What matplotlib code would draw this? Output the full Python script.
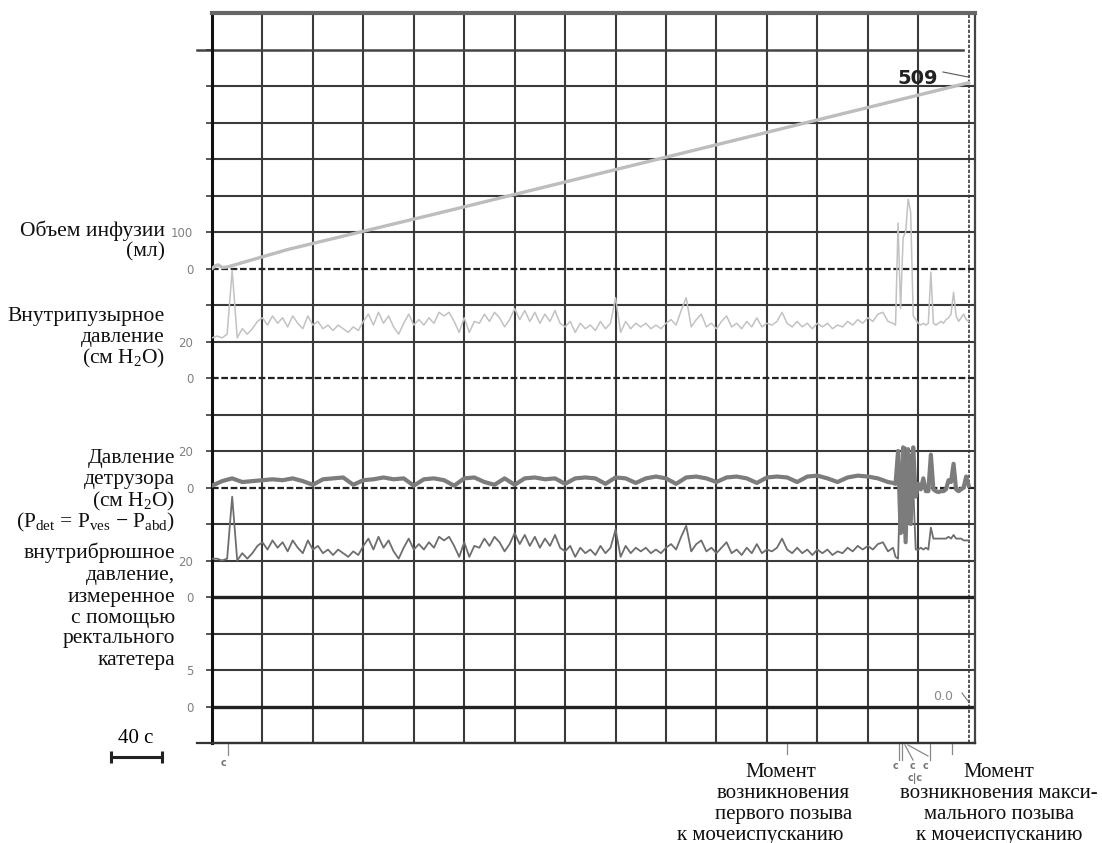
"""
Цистометрия наполнения: объем инфузии, Pves, Pdet, Pabd во времени.
"""
import numpy as np
import matplotlib.pyplot as plt

plt.rcParams['mathtext.fontset'] = 'custom'
plt.rcParams['mathtext.rm'] = 'Liberation Serif'
plt.rcParams['mathtext.it'] = 'Liberation Serif:italic'

W, H = 1102, 843
SERIF = ['Liberation Serif', 'DejaVu Serif']
SANS = ['DejaVu Sans']

GRID = '#3a3a3a'

# ------------------------------------------------------------
# Данные (время в секундах, 1 клетка = 40 с)
# ------------------------------------------------------------
T_VOL = [0, 3, 5, 8, 12, 60, 120, 180, 240, 300, 360, 420, 480, 540, 600]
VOLUME = [0, 8, 10, 3, 4, 52, 102, 152, 203, 254, 305, 356, 407, 458, 509]  # мл

T_MAIN = np.arange(0, 540, 4)
T_END = np.arange(540, 601, 2)
T_DET = np.arange(0, 540, 8)

# внутрипузырное давление, см H2O
VES_MAIN = [22, 23, 22, 24, 59, 22, 27, 24, 27, 31,
            33, 29, 34, 30, 33, 28, 34, 30, 27, 34,
            29, 31, 27, 29, 26, 29, 27, 25, 28, 26,
            31, 35, 29, 36, 30, 34, 28, 24, 30, 35,
            29, 32, 29, 33, 30, 36, 34, 36, 31, 25,
            33, 25, 31, 30, 35, 31, 36, 33, 28, 32,
            38, 32, 37, 31, 36, 30, 35, 31, 37, 30,
            28, 31, 25, 30, 27, 29, 26, 31, 27, 30,
            44, 25, 31, 27, 30, 28, 30, 27, 29, 27,
            30, 32, 29, 37, 44, 28, 32, 35, 28, 30,
            27, 31, 34, 28, 30, 27, 31, 28, 33, 28,
            30, 29, 31, 36, 30, 28, 31, 28, 30, 27,
            30, 28, 30, 27, 29, 28, 31, 29, 32, 30,
            33, 31, 35, 36, 31]
VES_END = [30, 29, 85, 38, 77, 80, 98, 91, 34, 32,
           30, 29, 30, 29, 30, 58, 30, 29, 30, 31,
           30, 32, 33, 35, 47, 34, 31, 33, 35, 32, 31]

# внутрибрюшное давление, см H2O
ABD_MAIN = [21, 21, 20, 21, 55, 20, 24, 21, 24, 28,
            30, 26, 31, 27, 30, 25, 31, 27, 24, 31,
            26, 28, 24, 26, 23, 26, 24, 22, 25, 23,
            28, 32, 26, 33, 27, 31, 25, 21, 27, 32,
            26, 29, 26, 30, 27, 33, 31, 33, 28, 22,
            30, 22, 28, 27, 32, 28, 33, 30, 25, 29,
            35, 29, 34, 28, 33, 27, 32, 28, 34, 27,
            25, 28, 22, 27, 24, 26, 23, 28, 24, 27,
            37, 22, 28, 24, 27, 25, 27, 24, 26, 24,
            27, 29, 26, 33, 39, 25, 29, 31, 25, 27,
            24, 27, 30, 24, 26, 23, 27, 24, 29, 24,
            26, 25, 27, 32, 26, 24, 27, 24, 26, 23,
            26, 24, 26, 23, 25, 24, 27, 25, 28, 26,
            28, 26, 29, 30, 25]
ABD_END = [27, 22, 21, 70, 35, 82, 40, 78, 60, 26,
           26, 27, 26, 27, 26, 38, 32, 32, 32, 32,
           32, 32, 33, 32, 34, 32, 32, 32, 31, 31, 31]

# давление детрузора, см H2O
DET_MAIN = [1, 3.5, 5, 3, 3.5, 4, 4.5, 4, 5, 3.5,
            1.5, 4.5, 5, 5.5, 1.5, 4, 4.5, 5.5, 4.5, 5,
            1, 4.5, 5, 4, 1, 5, 5.5, 3, 1.5, 5,
            1.5, 5, 5.5, 4.5, 5, 2, 5, 5.5, 5, 2,
            5.5, 5, 2.5, 5, 6, 5, 2, 5.5, 6, 5,
            3, 5.5, 6, 5, 2.5, 5.5, 6, 5.5, 3, 6,
            6.5, 5, 3, 5.5, 6.5, 6, 5, 3]
DET_END = [2.5, 2, 20, -25, 22, -30, 21, -20, 22, -5,
           2, -1, 5, -2, -2, 18, -1, -2, -2.5, -2,
           -2, -1, 4, 3, 13, -1, -2, -1, 0, 6, 1]

# подписи шкал слева: (номер линии сетки, текст)
Y_LABELS = {14: '100', 13: '0', 11: '20', 10: '0', 8: '20', 7: '0',
            5: '20', 4: '0', 2: '5', 1: '0'}

# ------------------------------------------------------------
# каналы: (нулевая линия сетки, единиц на клетку)
VOL_CH = (13, 100)
VES_CH = (10, 20)
DET_CH = (7, 20)
ABD_CH = (4, 20)


def level(values, ch):
    zero, per_cell = ch
    return zero + np.asarray(values, dtype=float) / per_cell


def px_t(x):
    return (x - 212) / 1.2612


def px_g(y):
    return (743 - y) / 36.5


def ftext(x, y, s, **kw):
    fig.text(x / W, 1 - y / H, s, **kw)


fig = plt.figure(figsize=(W / 100, H / 100), dpi=100)
ax = fig.add_axes([212 / W, 1 - 743 / H, (975 - 212) / W, (743 - 13) / H])
ax.set_xlim(0, 605)
ax.set_ylim(0, 20)

# сетка
for t in range(40, 600, 40):
    ax.axvline(t, color=GRID, lw=1.5, zorder=1)
ax.axvline(600, color=GRID, lw=1.2, ls=(0, (2, 1)), zorder=1)
for g in range(1, 20):
    if g in (13, 10, 7):
        ax.axhline(g, color='#222222', lw=1.6, ls=(0, (3, 1.2)), zorder=1)
    elif g in (4, 1):
        ax.axhline(g, color='#222222', lw=2.4, zorder=1)
    elif g == 19:
        ax.plot([px_t(197), px_t(963)], [g, g], color='#444444', lw=1.8,
                clip_on=False, zorder=1)
    else:
        ax.axhline(g, color=GRID, lw=1.5, zorder=1)

for side, lw, col in (('left', 2.2, '#111111'), ('top', 3.0, '#666666'),
                      ('right', 1.6, '#444444'), ('bottom', 1.6, '#333333')):
    ax.spines[side].set_linewidth(lw)
    ax.spines[side].set_color(col)
ax.plot([px_t(197), 605], [0, 0], color='#333333', lw=1.6, clip_on=False)

ax.set_xticks([])
ax.set_yticks(range(1, 20))
ax.set_yticklabels([Y_LABELS.get(g, '') for g in range(1, 20)])
ax.tick_params(axis='y', length=4.5, width=1.2, color=GRID, pad=9,
               labelsize=8.5, labelcolor='#808080')

# кривые
ax.plot(T_VOL, level(VOLUME, VOL_CH), color='#bdbdbd', lw=2.4, zorder=3)
t_full = np.concatenate([T_MAIN, T_END])
ax.plot(t_full, level(VES_MAIN + VES_END, VES_CH), color='#c2c2c2', lw=1.1, zorder=3)
ax.plot(t_full, level(ABD_MAIN + ABD_END, ABD_CH), color='#6e6e6e', lw=1.3, zorder=3)
ax.plot(np.concatenate([T_DET, T_END]), level(DET_MAIN + DET_END, DET_CH),
        color='#7c7c7c', lw=3.0, zorder=4, solid_joinstyle='round')

# метки значений
ax.text(px_t(918), px_g(78), '509', fontsize=14, fontweight='bold',
        color='#222222', ha='center', va='center', family=SANS)
ax.plot([px_t(943), px_t(968)], [px_g(72), px_g(77)], color='#555555', lw=0.8,
        clip_on=False)
ax.text(px_t(943), px_g(696), '0.0', fontsize=9, color='#888888',
        ha='center', va='center', family=SANS)
ax.plot([px_t(962), px_t(968)], [px_g(693), px_g(701)], color='#777777', lw=0.8)

# отметки событий на оси времени
mk = dict(color='#888888', lw=0.9, clip_on=False)
ax.plot([px_t(228), px_t(228)], [0, px_g(755)], **mk)
ax.text(px_t(224), px_g(763), 'c', fontsize=7, color='#777777', ha='center',
        va='center', family=SANS, fontweight='bold')
for x in (787, 952):
    ax.plot([px_t(x), px_t(x)], [0, px_g(754)], **mk)
for x in (899, 902, 930):
    ax.plot([px_t(x), px_t(x)], [0, px_g(760)], **mk)
ax.plot([px_t(905), px_t(913)], [px_g(745), px_g(760)], **mk)
ax.plot([px_t(908), px_t(928)], [px_g(745), px_g(756)], **mk)
for x, y, s in ((896, 766, 'c'), (913, 766, 'c'), (926, 766, 'c'),
                (915, 778, 'c|c')):
    ax.text(px_t(x), px_g(y), s, fontsize=7, color='#777777', ha='center',
            va='center', family=SANS, fontweight='bold')

# масштаб времени
ax.plot([px_t(111), px_t(162)], [px_g(757), px_g(757)], color='#222222', lw=2.2,
        marker='|', markersize=9, markeredgewidth=2.2, clip_on=False)
ftext(136, 743, '40 с', fontsize=15, family=SERIF, ha='center', va='baseline')

# подписи каналов слева
lab = dict(fontsize=15.5, family=SERIF, ha='right', va='baseline', color='#111111')
for y, s in ((236, 'Объем инфузии'), (256, '(мл)'),
             (321, 'Внутрипузырное'), (342, 'давление'),
             (363, '(см H$_2$O)')):
    ftext(165, y, s, **lab)
for y, s in ((463, 'Давление'), (484, 'детрузора'), (506, '(см H$_2$O)'),
             (527, '(P$_{\\rm det}$ = P$_{\\rm ves}$ − P$_{\\rm abd}$)'),
             (558, 'внутрибрюшное'), (580, 'давление,'), (602, 'измеренное'),
             (623, 'с помощью'), (643, 'ректального'), (665, 'катетера')):
    ftext(175, y, s, **lab)

# подписи событий снизу
bot = dict(fontsize=15, family=SERIF, ha='center', va='baseline', color='#111111')
for x, y, s in ((781, 777, 'Момент'), (783, 798, 'возникновения'),
                (784, 819, 'первого позыва'), (760, 840, 'к мочеиспусканию')):
    ftext(x, y, s, **bot)
for y, s in ((777, 'Момент'), (798, 'возникновения макси-'),
             (819, 'мального позыва'), (840, 'к мочеиспусканию')):
    ftext(999, y, s, **bot)

fig.savefig('out.png', dpi=100)
